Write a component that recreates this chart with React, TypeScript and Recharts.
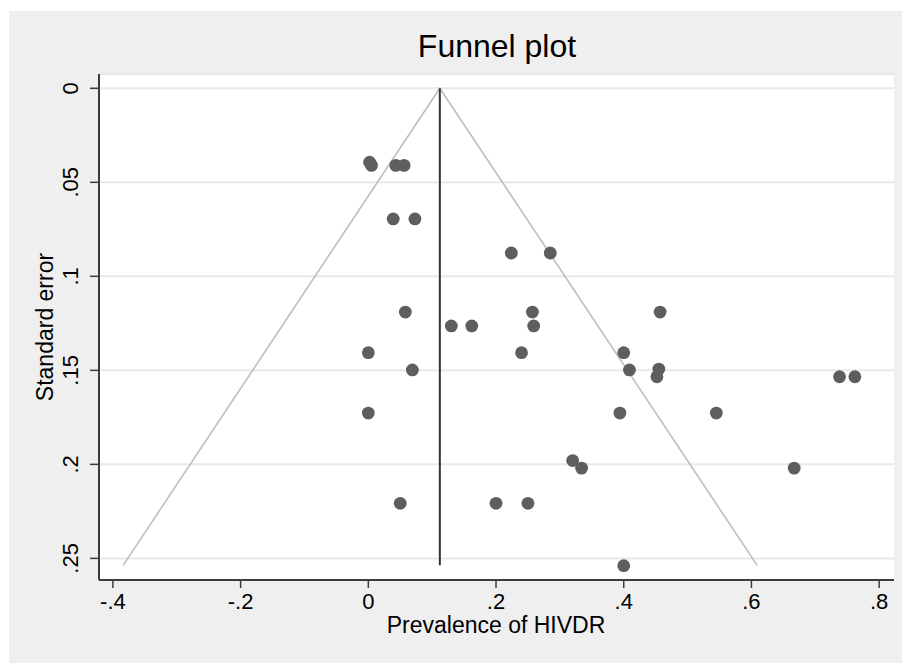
import React from "react";
import { ScatterChart, Scatter, XAxis, YAxis, CartesianGrid, Customized } from "recharts";

// axis ticks
const xTicks = [-0.4, -0.2, 0, 0.2, 0.4, 0.6, 0.8];
const yTicks = [0, 0.05, 0.1, 0.15, 0.2, 0.25];

// studies: prevalence vs standard error
const prevalence = [
  0.002, 0.005, 0.043, 0.056, 0.039, 0.073, 0.224, 0.285, 0.058, 0.257, 0.457,
  0.13, 0.162, 0.259, 0.0, 0.24, 0.4, 0.069, 0.409, 0.455, 0.452, 0.738, 0.762,
  0.0, 0.394, 0.545, 0.32, 0.334, 0.667, 0.05, 0.2, 0.25, 0.4,
];
const stdError = [
  0.0393, 0.041, 0.041, 0.041, 0.0695, 0.0695, 0.0876, 0.0876, 0.119, 0.119, 0.119,
  0.1264, 0.1264, 0.1264, 0.1406, 0.1406, 0.1406, 0.1498, 0.1498, 0.1493, 0.1534, 0.1534, 0.1534,
  0.1727, 0.1727, 0.1727, 0.198, 0.202, 0.202, 0.2207, 0.2207, 0.2207, 0.2539,
];

// funnel limits and pooled estimate
const funnelX = [-0.384, 0.112, 0.609];
const funnelSE = [0.2537, 0, 0.2537];
const pooledX = [0.112, 0.112];
const pooledSE = [0, 0.2537];

const studies = prevalence.map((x, i) => ({ x, se: stdError[i] }));
const funnel = funnelX.map((x, i) => ({ x, se: funnelSE[i] }));
const pooled = pooledX.map((x, i) => ({ x, se: pooledSE[i] }));

const FONT = '"Liberation Sans", Arial, Helvetica, sans-serif';

const fmt = (v: number) => {
  if (v === 0) return "0";
  const s = String(Math.abs(v)).replace(/^0/, "");
  return (v < 0 ? "-" : "") + s;
};

const XTick = (props: any) => {
  const { x, y, payload } = props;
  return (
    <text x={x} y={y + 19} textAnchor="middle" fontSize={22} fontFamily={FONT} fill="#000">
      {fmt(payload.value)}
    </text>
  );
};

const YTick = (props: any) => {
  const { x, y, payload } = props;
  const bx = x - 10;
  return (
    <text
      x={bx}
      y={y}
      transform={`rotate(-90, ${bx}, ${y})`}
      textAnchor="middle"
      fontSize={22}
      fontFamily={FONT}
      fill="#000"
    >
      {fmt(payload.value)}
    </text>
  );
};

const Dot = (props: any) => <circle cx={props.cx} cy={props.cy} r={6.4} fill="#5e5e5e" />;
const NoDot = () => <g />;

const Titles = () => (
  <g fontFamily={FONT} fill="#000">
    <text x={497} y={57} textAnchor="middle" fontSize={32}>Funnel plot</text>
    <text x={496} y={633} textAnchor="middle" fontSize={23}>Prevalence of HIVDR</text>
    <text x={53} y={327} textAnchor="middle" fontSize={23} transform="rotate(-90, 53, 327)">
      Standard error
    </text>
  </g>
);

export default function App() {
  return (
    <div style={{ position: "absolute", left: 0, top: 0, width: 903, height: 663, background: "#fff" }}>
      <div style={{ position: "absolute", left: 9, top: 11, width: 893, height: 652, background: "#efefef" }} />
      <div style={{ position: "absolute", left: 0, top: 0 }}>
        <ScatterChart width={903} height={663} margin={{ top: 74, right: 9, left: 39, bottom: 43 }}>
          <CartesianGrid vertical={false} fill="#fff" stroke="#e8e8e8" strokeWidth={2} />
          <XAxis
            type="number"
            dataKey="x"
            domain={[-0.4218, 0.8233]}
            ticks={xTicks}
            allowDataOverflow
            height={40}
            tickSize={8}
            tick={<XTick />}
            axisLine={{ stroke: "#3c3c3c", strokeWidth: 2 }}
            tickLine={{ stroke: "#3c3c3c", strokeWidth: 1.5 }}
          />
          <YAxis
            type="number"
            dataKey="se"
            reversed
            domain={[-0.0076, 0.2615]}
            ticks={yTicks}
            allowDataOverflow
            width={60}
            tickSize={9}
            tick={<YTick />}
            axisLine={{ stroke: "#3c3c3c", strokeWidth: 2 }}
            tickLine={{ stroke: "#3c3c3c", strokeWidth: 1.5 }}
          />
          <Scatter
            data={funnel}
            line={{ stroke: "#bebebe", strokeWidth: 1.6 }}
            lineType="joint"
            shape={NoDot}
            isAnimationActive={false}
          />
          <Scatter
            data={pooled}
            line={{ stroke: "#333333", strokeWidth: 2 }}
            lineType="joint"
            shape={NoDot}
            isAnimationActive={false}
          />
          <Scatter data={studies} shape={Dot} isAnimationActive={false} />
          <Customized component={Titles} />
        </ScatterChart>
      </div>
    </div>
  );
}
